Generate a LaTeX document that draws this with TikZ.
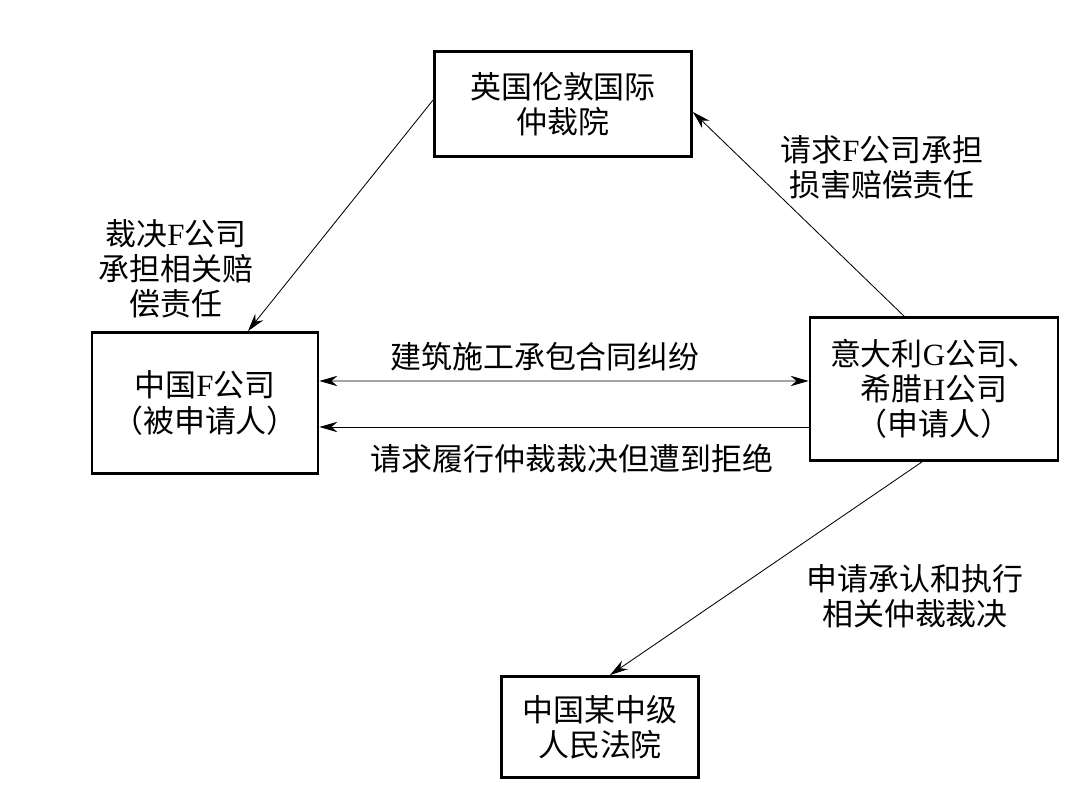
\documentclass[tikz,border=0pt]{standalone}
\usepackage{fontspec}
\setmainfont{Noto Sans CJK SC}
\newfontfamily\latinfont{Liberation Serif}
\newcommand{\lat}[1]{{\latinfont #1}}
\usetikzlibrary{arrows.meta}

\begin{document}
\begin{tikzpicture}[
    box/.style={draw, line width=2pt, align=center, inner sep=0pt},
    tip/.tip={Stealth[length=4.5mm, width=2.6mm]},
    link/.style={line width=0.6pt, -tip},
    lbl/.style={align=center},
    font=\fontsize{22}{25}\selectfont
  ]
    \useasboundingbox (0,0) rectangle (26.925,20.125);
    % boxes
    \node[box, minimum width=6.425cm, minimum height=2.625cm] (lcia) at (14.075,17.525) {英国伦敦国际\\仲裁院};
    \node[box, minimum width=5.65cm, minimum height=3.525cm] (fco) at (5.125,10.05) {中国\lat{F}公司\\（被申请人）};
    \node[box, minimum width=6.2cm, minimum height=3.575cm] (ghco) at (23.35,10.4) {意大利\lat{G}公司、\\希腊\lat{H}公司\\（申请人）};
    \node[box, minimum width=4.925cm, minimum height=2.525cm] (court) at (15.0,1.95) {中国某中级\\人民法院};
    % end points on the boxes
    \coordinate (lcia-w) at ([yshift=0.1cm]lcia.west);
    \coordinate (lcia-e) at ([yshift=-0.2cm]lcia.east);
    \coordinate (fco-n) at ([xshift=1.075cm]fco.north);
    \coordinate (fco-e1) at ([yshift=0.55cm]fco.east);
    \coordinate (fco-e2) at ([yshift=-0.6cm]fco.east);
    \coordinate (ghco-n) at ([xshift=-0.75cm]ghco.north);
    \coordinate (ghco-w1) at ([yshift=0.2cm]ghco.west);
    \coordinate (ghco-w2) at ([yshift=-0.95cm]ghco.west);
    \coordinate (ghco-s) at ([xshift=-0.3cm]ghco.south);
    \coordinate (court-n) at ([xshift=0.25cm]court.north);
    % connectors
    \draw[link] (lcia-w) -- (fco-n);
    \draw[link] (ghco-n) -- (lcia-e);
    \draw[link, tip-tip] (fco-e1) -- (ghco-w1);
    \draw[link] (ghco-w2) -- (fco-e2);
    \draw[link] (ghco-s) -- (court-n);
    % labels
    \node[lbl] (award) at (4.4,13.4) {裁决\lat{F}公司\\承担相关赔\\偿责任};
    \node[lbl] (claim) at (22.05,15.95) {请求\lat{F}公司承担\\损害赔偿责任};
    \node[lbl] (dispute) at (13.625,11.2) {建筑施工承包合同纠纷};
    \node[lbl] (refuse) at (14.3,8.66) {请求履行仲裁裁决但遭到拒绝};
    \node[lbl] (enforce) at (22.875,5.22) {申请承认和执行\\相关仲裁裁决};
\end{tikzpicture}
\end{document}
